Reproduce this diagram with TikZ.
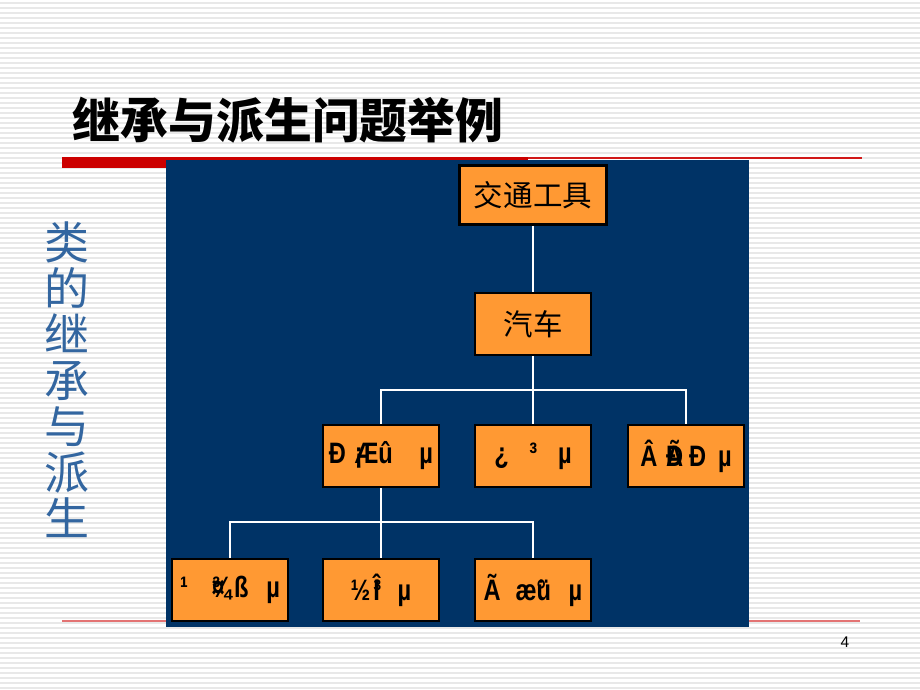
\documentclass[tikz,border=0pt]{standalone}
\usepackage{fontspec}
\setmainfont{Liberation Sans}
\newfontfamily\cjk{Noto Sans CJK SC}
\newfontfamily\garbfont[FakeStretch=0.8]{Liberation Sans}
\definecolor{panelblue}{RGB}{0,51,102}
\definecolor{boxorange}{RGB}{255,153,51}
\definecolor{barred}{RGB}{204,0,0}
\definecolor{sideblue}{RGB}{51,102,160}
\tikzset{
  cls/.style={draw=black, line width=2pt, fill=boxorange, minimum width=2.9cm, minimum height=1.55cm, inner sep=0pt},
  garbled/.style={font=\garbfont\bfseries\fontsize{21}{23}\selectfont},
  hanzi/.style={font=\cjk\fontsize{21}{24}\selectfont},
  link/.style={draw=white, line width=1.4pt},
  stripe/.style={draw=gray!18, line width=0.9pt}
}

\begin{document}
\begin{tikzpicture}[x=0.025cm,y=-0.025cm]
	\useasboundingbox (0,0) rectangle (920,690);
	\fill[white] (0,0) rectangle (920,690);
	\foreach \y in {3,8,...,688}
		\draw[stripe] (0,\y) -- (920,\y);
	% title and rules
	\node[anchor=west, font=\cjk\bfseries\fontsize{34}{36}\selectfont] (title) at (68,120) {继承与派生问题举例};
	\fill[barred] (62,157) rectangle (528,168);
	\fill[barred!90] (528,156.5) rectangle (862,158.5);
	\draw[barred!55, line width=1pt] (62,621) -- (860,621);
	\node[text=sideblue, font=\cjk\fontsize{32}{32.7}\selectfont, align=center] (side) at (67,380) {类\\的\\继\\承\\与\\派\\生};
	% panel
	\fill[panelblue] (166,160) rectangle (749,627);
	\node[cls, hanzi, minimum width=3.675cm, minimum height=1.475cm] (vehicle) at (533,195) {交通工具};
	\node[cls, hanzi] (car) at (533,324) {汽车};
	\node[cls, garbled] (small) at (381,456) {Ð\hspace{0.3em}\rlap{¡}Æû\hspace{0.9em}µ};
	\node[cls, garbled] (truck) at (533,456) {¿\hspace{0.7em}³\hspace{0.7em}µ};
	\node[cls, garbled] (travel) at (686,456) {Â\hspace{0.3em}\rlap{Ã}Ð\hspace{0.2em}Ð\hspace{0.4em}µ};
	\node[cls, garbled] (tool) at (230,590) {¹\hspace{0.8em}\rlap{¤}¾\hspace{0.1em}ß\hspace{0.6em}µ};
	\node[cls, garbled] (sedan) at (381,590) {½\hspace{0.1em}\rlap{³}Î\hspace{0.6em}µ};
	\node[cls, garbled] (van) at (533,590) {Ã\hspace{0.5em}æ\rlap{°}ü\hspace{0.6em}µ};
	\draw[link] (vehicle) -- (car);
	\draw[link] (car.south) -- ++(0,34) coordinate (fork1);
	\draw[link] (fork1) -| (small.north);
	\draw[link] (fork1) -| (truck.north);
	\draw[link] (fork1) -| (travel.north);
	\draw[link] (small.south) -- ++(0,34) coordinate (fork2);
	\draw[link] (fork2) -| (tool.north);
	\draw[link] (fork2) -| (sedan.north);
	\draw[link] (fork2) -| (van.north);
	\node[font=\fontsize{11}{13}\selectfont] (pagenum) at (845,642) {4};
\end{tikzpicture}
\end{document}
